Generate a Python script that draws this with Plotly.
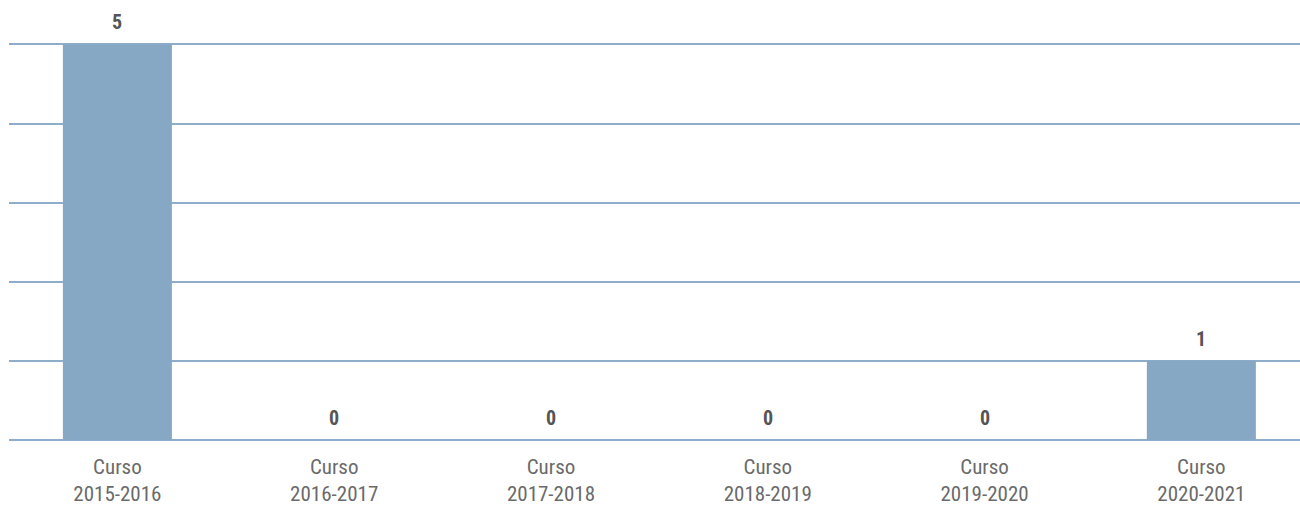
import plotly.graph_objects as go

categories = ["Curso<br>2015-2016", "Curso<br>2016-2017", "Curso<br>2017-2018",
              "Curso<br>2018-2019", "Curso<br>2019-2020", "Curso<br>2020-2021"]
values = [5, 0, 0, 0, 0, 1]
y_ticks = [0, 1, 2, 3, 4, 5]

FONT = "Liberation Sans Narrow, Arial Narrow, Roboto Condensed, Liberation Sans, sans-serif"
BAR = "#87A8C5"
GRID = "#8EADCB"

fig = go.Figure()
fig.add_trace(go.Bar(
    x=categories, y=values, marker=dict(color=BAR, line=dict(width=0)),
    width=0.503, hoverinfo="skip", cliponaxis=False,
))

for c, v in zip(categories, values):
    fig.add_annotation(x=c, y=v, text=f"<b>{v}</b>", showarrow=False,
                       yanchor="bottom", yshift=8,
                       font=dict(family=FONT, size=20, color="#555555"))

fig.update_layout(
    width=1300, height=506,
    margin=dict(l=9, r=0, t=42, b=59),
    paper_bgcolor="white", plot_bgcolor="white",
    showlegend=False, bargap=0.497,
    font=dict(family=FONT, size=20, color="#666666"),
)
fig.update_xaxes(range=[-0.5, 5.455], showgrid=False, zeroline=False,
                 showline=False, ticks="", ticklabelstandoff=12,
                 tickfont=dict(family=FONT, size=21, color="#6a6a6a"))
fig.update_yaxes(range=[0, 5.03], tickvals=y_ticks, showticklabels=False,
                 showgrid=True, gridcolor=GRID, gridwidth=2,
                 zeroline=True, zerolinecolor=GRID, zerolinewidth=2, showline=False)

fig.write_html("out.html", config={"displayModeBar": False},
               post_script="document.body.style.margin='0';document.body.style.overflow='hidden';")
